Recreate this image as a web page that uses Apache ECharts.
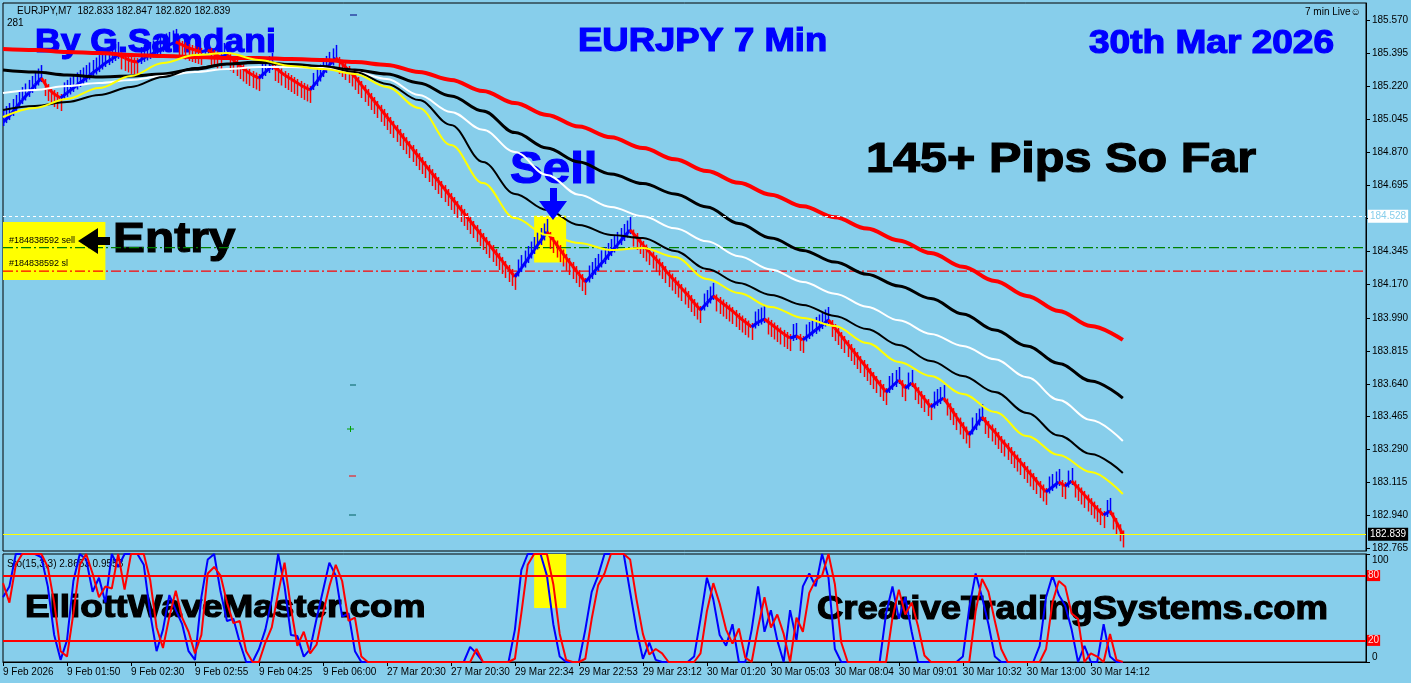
<!DOCTYPE html>
<html>
<head>
<meta charset="utf-8">
<title>EURJPY 7 Min</title>
<script src="https://cdn.jsdelivr.net/npm/echarts@6.0.0/dist/echarts.min.js"></script>
<style>
  html, body { margin: 0; padding: 0; background: #87ceeb; }
  #chart { width: 1411px; height: 683px; }
</style>
</head>
<body>
<div id="chart"></div>
<script>
// bar closes, one per 7 min bar
const CLOSES = [
  185.031, 185.063, 185.106, 185.148, 185.186, 185.228, 185.265, 185.212, 185.180, 185.159,
  185.186, 185.212, 185.239, 185.265, 185.292, 185.318, 185.345, 185.366, 185.388, 185.372,
  185.356, 185.350, 185.372, 185.388, 185.404, 185.425, 185.441, 185.457, 185.441, 185.425,
  185.414, 185.404, 185.414, 185.393, 185.377, 185.388, 185.361, 185.329, 185.303, 185.281,
  185.265, 185.297, 185.329, 185.308, 185.281, 185.260, 185.239, 185.218, 185.202, 185.244,
  185.292, 185.335, 185.372, 185.340, 185.308, 185.271, 185.228, 185.186, 185.143, 185.101,
  185.058, 185.016, 184.973, 184.930, 184.888, 184.845, 184.803, 184.760, 184.718, 184.675,
  184.633, 184.590, 184.548, 184.505, 184.463, 184.420, 184.378, 184.335, 184.293, 184.250,
  184.208, 184.255, 184.303, 184.351, 184.399, 184.447, 184.404, 184.356, 184.309, 184.266,
  184.223, 184.181, 184.218, 184.261, 184.298, 184.340, 184.378, 184.420, 184.457, 184.420,
  184.378, 184.340, 184.303, 184.266, 184.223, 184.186, 184.149, 184.112, 184.069, 184.032,
  184.069, 184.107, 184.080, 184.053, 184.027, 183.995, 183.968, 183.942, 183.968, 183.984,
  183.958, 183.931, 183.905, 183.883, 183.894, 183.873, 183.899, 183.926, 183.952, 183.979,
  183.936, 183.894, 183.851, 183.809, 183.766, 183.724, 183.681, 183.639, 183.596, 183.628,
  183.660, 183.617, 183.644, 183.601, 183.559, 183.516, 183.543, 183.564, 183.516, 183.463,
  183.415, 183.368, 183.415, 183.463, 183.421, 183.384, 183.341, 183.304, 183.261, 183.224,
  183.182, 183.144, 183.102, 183.065, 183.091, 183.118, 183.096, 183.123, 183.086, 183.049,
  183.011, 182.974, 182.942, 182.964, 182.905, 182.839
];

// moving averages, one value every MA_STEP bars
const MA_STEP = 5;
const MA_RED = [
  185.420, 185.414, 185.404, 185.398, 185.388, 185.382, 185.377, 185.372, 185.372, 185.366,
  185.361, 185.350, 185.335, 185.297, 185.255, 185.196, 185.132, 185.069, 185.007, 184.950,
  184.893, 184.833, 184.771, 184.708, 184.645, 184.583, 184.525, 184.465, 184.402, 184.335,
  184.262, 184.186, 184.107, 184.027, 183.947, 183.873
];
const MA_BLACK_SLOW = [
  185.308, 185.297, 185.281, 185.271, 185.276, 185.287, 185.313, 185.340, 185.350, 185.335,
  185.324, 185.308, 185.287, 185.239, 185.170, 185.090, 184.975, 184.893, 184.819, 184.755,
  184.704, 184.649, 184.580, 184.492, 184.415, 184.349, 184.287, 184.222, 184.160, 184.093,
  184.011, 183.926, 183.841, 183.748, 183.655, 183.564
];
const MA_WHITE = [
  185.186, 185.202, 185.223, 185.239, 185.255, 185.276, 185.297, 185.313, 185.324, 185.324,
  185.318, 185.297, 185.260, 185.175, 185.085, 184.990, 184.872, 184.750, 184.645, 184.580,
  184.530, 184.466, 184.397, 184.318, 184.248, 184.181, 184.119, 184.050, 183.977, 183.905,
  183.841, 183.770, 183.675, 183.554, 183.447, 183.336
];
const MA_BLACK_FAST = [
  185.095, 185.117, 185.138, 185.175, 185.218, 185.271, 185.318, 185.340, 185.345, 185.340,
  185.329, 185.297, 185.234, 185.148, 185.016, 184.819, 184.649, 184.564, 184.484, 184.431,
  184.415, 184.346, 184.250, 184.176, 184.112, 184.059, 184.000, 183.931, 183.846, 183.761,
  183.681, 183.596, 183.485, 183.365, 183.267, 183.166
];
const MA_YELLOW = [
  185.058, 185.106, 185.154, 185.212, 185.276, 185.345, 185.388, 185.398, 185.361, 185.329,
  185.313, 185.287, 185.218, 185.106, 184.909, 184.707, 184.521, 184.431, 184.388, 184.351,
  184.362, 184.314, 184.197, 184.122, 184.048, 183.990, 183.947, 183.857, 183.756, 183.681,
  183.586, 183.490, 183.362, 183.261, 183.171, 183.054
];

// Stochastic(15,3,3)
const STOCH_K = [
  60, 70, 100, 100, 100, 100, 97, 70, 25, 2,
  20, 75, 100, 95, 65, 78, 55, 100, 88, 100,
  100, 100, 90, 45, 10, 30, 62, 48, 35, 10,
  2, 60, 95, 100, 65, 38, 40, 18, 0, 0,
  12, 30, 58, 100, 70, 25, 24, 5, 12, 40,
  66, 92, 80, 42, 45, 10, 0, 0, 0, 0,
  0, 0, 0, 0, 0, 0, 0, 0, 0, 0,
  0, 0, 0, 14, 8, 0, 0, 0, 0, 0,
  30, 85, 100, 100, 100, 80, 35, 5, 0, 0,
  0, 30, 65, 80, 100, 100, 100, 100, 65, 30,
  3, 18, 2, 0, 0, 0, 0, 0, 5, 40,
  78, 58, 25, 15, 35, 0, 0, 30, 70, 28,
  48, 20, 0, 48, 20, 70, 82, 70, 100, 78,
  12, 0, 0, 0, 0, 0, 0, 0, 45, 70,
  40, 60, 28, 0, 0, 0, 0, 0, 0, 0,
  5, 50, 82, 60, 35, 5, 0, 0, 0, 0,
  0, 0, 15, 60, 80, 62, 52, 30, 0, 15,
  0, 0, 35, 5, 0, 0
];
const STOCH_D = [
  73, 55, 90, 100, 100, 100, 100, 88, 55, 10,
  5, 45, 90, 100, 82, 60, 70, 68, 100, 67,
  100, 100, 100, 76, 32, 13, 42, 66, 41, 28,
  8, 25, 82, 88, 80, 55, 36, 38, 10, 0,
  0, 18, 32, 64, 92, 50, 15, 28, 8, 16,
  45, 70, 90, 75, 38, 41, 5, 0, 0, 0,
  0, 0, 0, 0, 0, 0, 0, 0, 0, 0,
  0, 0, 0, 0, 12, 0, 0, 0, 0, 0,
  3, 45, 90, 100, 100, 100, 72, 26, 2, 0,
  0, 3, 40, 71, 82, 100, 100, 100, 95, 58,
  26, 7, 12, 8, 0, 0, 0, 0, 0, 8,
  47, 73, 54, 30, 17, 31, 4, 0, 32, 60,
  32, 44, 26, 0, 41, 28, 64, 76, 80, 100,
  72, 18, 0, 0, 0, 0, 0, 0, 0, 41,
  67, 44, 55, 33, 6, 0, 0, 0, 0, 0,
  0, 0, 47, 77, 65, 38, 12, 0, 0, 0,
  0, 0, 0, 12, 55, 75, 70, 45, 40, 0,
  8, 5, 0, 26, 2, 0
];
const STOCH_LEVELS = [80, 20];

// axis labels
const PRICE_LABELS = [
  '182.765', '182.940', '183.115', '183.290', '183.465', '183.640', '183.815', '183.990', '184.170',
  '184.345', '184.520', '184.695', '184.870', '185.045', '185.220', '185.395', '185.570'
];
const TIME_LABELS = [
  '9 Feb 2026', '9 Feb 01:50', '9 Feb 02:30', '9 Feb 02:55', '9 Feb 04:25', '9 Feb 06:00',
  '27 Mar 20:30', '27 Mar 20:30', '29 Mar 22:34', '29 Mar 22:53', '29 Mar 23:12', '30 Mar 01:20',
  '30 Mar 05:03', '30 Mar 08:04', '30 Mar 09:01', '30 Mar 10:32', '30 Mar 13:00', '30 Mar 14:12'
];
const LABEL_EVERY = 10;
const N_SLOTS = 214; // bars + empty space on the right

// order lines
const ASK_LEVEL = 184.528;
const ENTRY_LEVEL = 184.364;
const SL_LEVEL = 184.239;
const LAST_PRICE = 182.839;
const ENTRY_BOX = { from: 0, to: 16, low: 184.191, high: 184.500 };
const SELL_BOX = { from: 83, to: 88, low: 184.284, high: 184.533 };

const SKY = '#87ceeb';
const AXIS_FONT = "'Liberation Sans', Arial, sans-serif";
const BIG_FONT = "'Liberation Sans', Arial, sans-serif";

const categories = Array.from({ length: N_SLOTS }, (_, i) => String(i));
const maData = arr => arr.map((v, k) => [k * MA_STEP, v]);
const barData = CLOSES.map((c, i) => [i, c, i ? CLOSES[i - 1] : c]);
const showSlot = idx => idx % LABEL_EVERY === 0 && idx / LABEL_EVERY < TIME_LABELS.length;

const chart = echarts.init(document.getElementById('chart'), null, { renderer: 'canvas' });

const renderBar = (params, api) => {
  const i = api.value(0);
  const p1 = api.coord([i, api.value(1)]);
  const p0 = i > 0 ? api.coord([i - 1, api.value(2)]) : p1;
  const down = api.value(1) < api.value(2);
  const color = down ? '#ff0000' : '#0000ff';
  const dir = down ? 1 : -1;
  const children = [{
    type: 'line',
    shape: { x1: p0[0], y1: p0[1], x2: p1[0], y2: p1[1] },
    style: { stroke: color, lineWidth: 3 }
  }];
  [0.5, 1].forEach(t => {
    const x = Math.round(p0[0] + (p1[0] - p0[0]) * t) + 0.5;
    const y = p0[1] + (p1[1] - p0[1]) * t;
    children.push({
      type: 'line',
      shape: { x1: x, y1: y - 4 * dir, x2: x, y2: y + 13 * dir },
      style: { stroke: color, lineWidth: 1.5 }
    });
  });
  return { type: 'group', children };
};

const maLine = (name, data, color, width) => ({
  name,
  type: 'line',
  xAxisIndex: 0,
  yAxisIndex: 0,
  data: maData(data),
  smooth: 0.35,
  smoothMonotone: 'x',
  showSymbol: false,
  z: 4,
  lineStyle: { color, width },
  silent: true
});

// flat order level drawn across the whole price panel
const levelLine = (name, value, color) => ({
  name,
  type: 'line',
  xAxisIndex: 0,
  yAxisIndex: 0,
  data: [[0, value], [N_SLOTS - 1, value]],
  showSymbol: false,
  z: 2,
  silent: true,
  lineStyle: { color, width: 1.3, type: [10, 3, 2, 3] }
});

const bigText = (text, x, y, size, scaleX, fill) => ({
  type: 'text',
  x, y, scaleX,
  z: 1,
  silent: true,
  style: {
    text,
    fill,
    stroke: fill,
    lineWidth: 1.2,
    fontSize: size,
    fontWeight: 'bold',
    fontFamily: BIG_FONT,
    align: 'left',
    verticalAlign: 'middle'
  }
});

const smallText = (text, x, y, z, size) => ({
  type: 'text',
  x, y,
  z: z || 1,
  silent: true,
  style: { text, fill: '#000', fontSize: size || 10, fontFamily: AXIS_FONT, align: 'left', verticalAlign: 'middle' }
});

const dash = (x1, y, x2, color) => ({
  type: 'line', z: 1, silent: true,
  shape: { x1, y1: y, x2, y2: y },
  style: { stroke: color, lineWidth: 1 }
});

const levelLabel = (text, bg, fg) => ({
  show: true, position: 'end', distance: 2,
  formatter: () => text,
  backgroundColor: bg, color: fg, padding: [2, 2, 1, 2],
  fontSize: 10, fontFamily: AXIS_FONT
});

const option = {
  animation: false,
  backgroundColor: SKY,
  grid: [
    { left: 3, top: 3, width: 1363, height: 548, show: true, borderColor: '#000', borderWidth: 1, backgroundColor: 'transparent', outerBoundsMode: 'none' },
    { left: 3, top: 554, width: 1363, height: 108, show: true, borderColor: '#000', borderWidth: 1, backgroundColor: 'transparent', outerBoundsMode: 'none' }
  ],
  xAxis: [
    { type: 'category', gridIndex: 0, data: categories, boundaryGap: false, show: false },
    {
      type: 'category', gridIndex: 1, data: categories, boundaryGap: false,
      axisLine: { lineStyle: { color: '#000', width: 1 } },
      axisTick: { length: 4, lineStyle: { color: '#000' }, interval: showSlot },
      axisLabel: {
        interval: showSlot,
        formatter: (v, idx) => TIME_LABELS[idx / LABEL_EVERY] || '',
        align: 'left',
        margin: 5,
        color: '#000',
        fontSize: 10,
        fontFamily: AXIS_FONT
      },
      splitLine: { show: false }
    }
  ],
  yAxis: [
    {
      type: 'value', gridIndex: 0, position: 'right',
      min: 182.751, max: 185.664,
      axisLine: { show: true, lineStyle: { color: '#000' } },
      axisTick: { show: true, length: 4, lineStyle: { color: '#000' }, customValues: PRICE_LABELS.map(Number) },
      axisLabel: {
        customValues: PRICE_LABELS.map(Number),
        formatter: v => v.toFixed(3),
        margin: 6, color: '#000', fontSize: 10, fontFamily: AXIS_FONT
      },
      splitLine: { show: false }
    },
    {
      type: 'value', gridIndex: 1, position: 'right',
      min: 0, max: 100,
      axisLine: { show: true, lineStyle: { color: '#000' } },
      axisTick: { show: true, length: 4, lineStyle: { color: '#000' }, customValues: [0, 100] },
      axisLabel: {
        customValues: [0, 100],
        formatter: v => (v === 100 ? '{t|100}' : '{b|0}'),
        rich: {
          t: { padding: [12, 0, 0, 0], fontSize: 10, fontFamily: AXIS_FONT, color: '#000' },
          b: { padding: [0, 0, 10, 0], fontSize: 10, fontFamily: AXIS_FONT, color: '#000' }
        },
        margin: 6
      },
      splitLine: { show: false }
    }
  ],
  series: [
    {
      name: 'EURJPY',
      type: 'custom',
      xAxisIndex: 0,
      yAxisIndex: 0,
      data: barData,
      encode: { x: 0, y: 1 },
      renderItem: renderBar,
      clip: true,
      z: 3,
      silent: true
    },
    levelLine('entry', ENTRY_LEVEL, '#008000'),
    levelLine('sl', SL_LEVEL, '#ff0000'),
    Object.assign(maLine('MA red', MA_RED, '#ff0000', 4), {
      markArea: {
        silent: true,
        itemStyle: { color: '#ffff00' },
        data: [
          [{ xAxis: ENTRY_BOX.from, yAxis: ENTRY_BOX.low }, { xAxis: ENTRY_BOX.to, yAxis: ENTRY_BOX.high }],
          [{ xAxis: SELL_BOX.from, yAxis: SELL_BOX.low }, { xAxis: SELL_BOX.to, yAxis: SELL_BOX.high }]
        ]
      },
      markLine: {
        silent: true,
        symbol: ['none', 'none'],
        animation: false,
        label: { show: false },
        data: [
          {
            yAxis: ASK_LEVEL,
            lineStyle: { color: '#ffffff', type: [3, 3], width: 1 },
            label: levelLabel(ASK_LEVEL.toFixed(3), '#ffffff', SKY)
          },
          {
            yAxis: LAST_PRICE,
            lineStyle: { color: '#ffff00', type: 'solid', width: 1 },
            label: levelLabel(LAST_PRICE.toFixed(3), '#000000', '#ffffff')
          }
        ]
      }
    }),
    maLine('MA black slow', MA_BLACK_SLOW, '#000000', 3),
    maLine('MA white', MA_WHITE, '#ffffff', 2),
    maLine('MA black fast', MA_BLACK_FAST, '#000000', 2),
    maLine('MA yellow', MA_YELLOW, '#ffff00', 2),
    {
      name: '%K',
      type: 'line',
      xAxisIndex: 1,
      yAxisIndex: 1,
      data: STOCH_K,
      showSymbol: false,
      lineStyle: { color: '#0000ff', width: 2 },
      z: 3,
      silent: true,
      markArea: {
        silent: true,
        itemStyle: { color: '#ffff00' },
        data: [[{ xAxis: SELL_BOX.from, yAxis: 50 }, { xAxis: SELL_BOX.to, yAxis: 100 }]]
      }
    },
    {
      name: '%D',
      type: 'line',
      xAxisIndex: 1,
      yAxisIndex: 1,
      data: STOCH_D,
      showSymbol: false,
      lineStyle: { color: '#ff0000', width: 2 },
      z: 4,
      silent: true,
      markLine: {
        silent: true,
        symbol: ['none', 'none'],
        animation: false,
        lineStyle: { color: '#ff0000', type: 'solid', width: 2 },
        label: {
          show: true, position: 'end', distance: 1,
          formatter: p => String(p.value),
          backgroundColor: '#ff0000', color: '#ffe0e0', padding: [1, 1, 0, 1],
          fontSize: 10, fontFamily: AXIS_FONT
        },
        data: STOCH_LEVELS.map(v => ({ yAxis: v }))
      }
    }
  ],
  graphic: [
    smallText('EURJPY,M7  182.833 182.847 182.820 182.839', 17, 11),
    smallText('281', 7, 23),
    smallText('7 min Live\u263A', 1305, 12),
    smallText('Sto(15,3,3) 2.8653 0.9553', 7, 564),
    smallText('#184838592 sell', 9, 241, 5, 9),
    smallText('#184838592 sl', 9, 264, 5, 9),
    bigText('By G.Samdani', 35, 43, 33.5, 1.06, '#0000ff'),
    bigText('EURJPY 7 Min', 578, 42, 33, 1.105, '#0000ff'),
    bigText('30th Mar 2026', 1089, 44, 32.5, 1.14, '#0000ff'),
    bigText('145+ Pips So Far', 866, 160, 43, 1.13, '#000000'),
    bigText('Sell', 510, 171, 44.7, 1.1, '#0000ff'),
    bigText('Entry', 113, 240, 42, 1.14, '#000000'),
    bigText('ElliottWaveMaster.com', 25, 608, 31, 1.19, '#000000'),
    bigText('CreativeTradingSystems.com', 817, 610, 32.6, 1.12, '#000000'),
    {
      type: 'polygon', z: 6, silent: true,
      shape: { points: [[550, 188], [557, 188], [557, 201], [567, 201], [553, 220], [539, 201], [550, 201]] },
      style: { fill: '#0000ff' }
    },
    {
      type: 'polygon', z: 6, silent: true,
      shape: { points: [[78, 241], [98, 228], [98, 237], [110, 237], [110, 245], [98, 245], [98, 254]] },
      style: { fill: '#000000' }
    },
    dash(350, 15, 357, '#000080'),
    dash(350, 385, 356, '#006060'),
    dash(347, 429, 354, '#00a000'),
    { type: 'line', z: 1, silent: true, shape: { x1: 350.5, y1: 426, x2: 350.5, y2: 432 }, style: { stroke: '#00a000', lineWidth: 1 } },
    dash(349, 476, 356, '#ff0000'),
    dash(349, 515, 356, '#006060')
  ]
};

chart.setOption(option);
</script>
</body>
</html>
